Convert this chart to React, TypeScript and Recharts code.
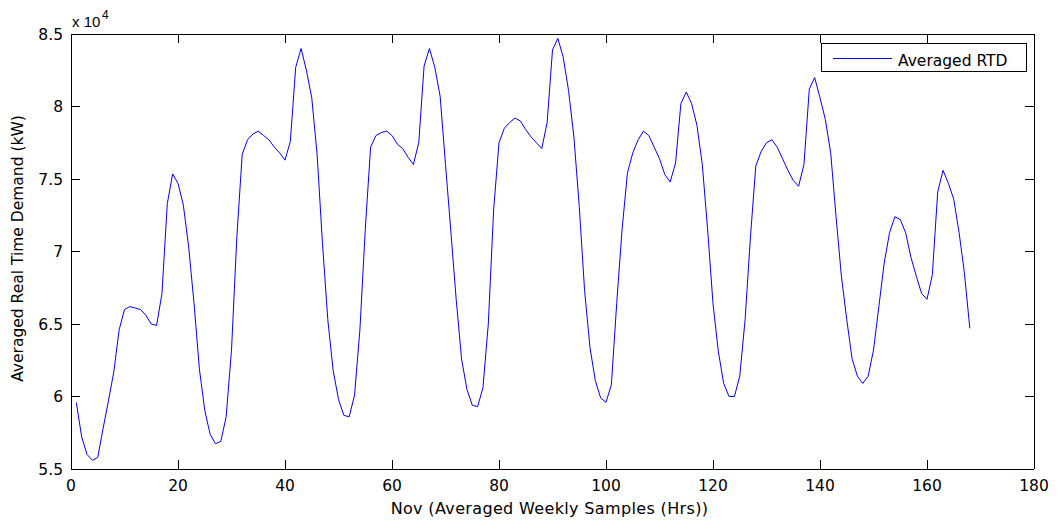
import React from "react";
import { LineChart, Line, XAxis, YAxis, Legend } from "recharts";

// averaged hourly demand over one week (kW), hour 1..168
const demandKW = [
  59580, 57200, 56000, 55600, 55800, 57800, 59700, 61700, 64600, 66000,
  66200, 66100, 66000, 65600, 65000, 64900, 67100, 73300, 75350, 74700,
  73200, 70300, 66400, 61900, 59050, 57400, 56750, 56900, 58600, 63200,
  71000, 76700, 77700, 78100, 78300, 78000, 77700, 77200, 76800, 76300,
  77600, 82700, 84000, 82500, 80600, 76700, 70600, 65300, 61800, 59800,
  58700, 58600, 60100, 64600, 71500, 77200, 78000, 78200, 78300, 78000,
  77400, 77100, 76500, 76000, 77500, 82800, 84000, 82700, 80700, 76000,
  71400, 66700, 62600, 60500, 59400, 59300, 60600, 65000, 72900, 77500,
  78500, 78900, 79200, 79000, 78400, 77900, 77500, 77100, 78900, 83900,
  84700, 83400, 81100, 77900, 73100, 67300, 63400, 61100, 59900, 59600,
  60800, 66400, 71500, 75400, 76800, 77700, 78300, 78000, 77200, 76400,
  75300, 74800, 76100, 80200, 81000, 80200, 78700, 76000, 71500, 66400,
  63100, 60900, 60000, 60000, 61400, 65300, 71000, 75900, 76900, 77500,
  77700, 77200, 76400, 75600, 74900, 74500, 76000, 81200, 82000, 80600,
  79100, 76800, 72400, 68300, 65300, 62600, 61400, 60900, 61400, 63200,
  66200, 69200, 71300, 72400, 72200, 71300, 69600, 68300, 67100, 66700,
  68400, 74100, 75600, 74700, 73600, 71300, 68500, 64700,
];

const xTicks = [0, 20, 40, 60, 80, 100, 120, 140, 160, 180];
const yTicks = [55000, 60000, 65000, 70000, 75000, 80000, 85000];

const seriesName = "Averaged RTD";
const xTitle = "Nov (Averaged Weekly Samples (Hrs))";
const yTitle = "Averaged Real Time Demand (kW)";

const rows = demandKW.map((v, i) => ({ hour: i + 1, rtd: v }));

const W = 1058;
const H = 520;
const MARGIN = { top: 34, right: 24, bottom: 11, left: 11 };
const Y_AXIS_W = 60;
const X_AXIS_H = 40;
const PLOT_TOP = MARGIN.top;
const PLOT_LEFT = MARGIN.left + Y_AXIS_W;
const PLOT_RIGHT = W - MARGIN.right;

const FONT = "'DejaVu Sans', Arial, sans-serif";
const TICK_LEN = 9;

// bottom axis tick: label, inner tick at bottom and top (matlab box),
// the first tick also draws the top and right edges of the box
const BottomTick = (props: any) => {
  const { x, y, payload, index } = props;
  return (
    <g>
      {index === 0 && (
        <g>
          <line x1={PLOT_LEFT} y1={PLOT_TOP} x2={PLOT_RIGHT} y2={PLOT_TOP} stroke="#000" shapeRendering="crispEdges" />
          <line x1={PLOT_RIGHT} y1={PLOT_TOP} x2={PLOT_RIGHT} y2={y} stroke="#000" shapeRendering="crispEdges" />
        </g>
      )}
      <line x1={x} y1={y} x2={x} y2={y - TICK_LEN} stroke="#000" shapeRendering="crispEdges" />
      <line x1={x} y1={PLOT_TOP} x2={x} y2={PLOT_TOP + TICK_LEN} stroke="#000" shapeRendering="crispEdges" />
      <text x={x} y={y + 22} textAnchor="middle" fontSize={15.5} fontFamily={FONT} fill="#000">
        {payload.value}
      </text>
    </g>
  );
};

const LeftTick = (props: any) => {
  const { x, y, payload } = props;
  return (
    <g>
      <line x1={x} y1={y} x2={x + TICK_LEN} y2={y} stroke="#000" shapeRendering="crispEdges" />
      <line x1={PLOT_RIGHT} y1={y} x2={PLOT_RIGHT - TICK_LEN} y2={y} stroke="#000" shapeRendering="crispEdges" />
      <text x={x - 8} y={y + 5.6} textAnchor="end" fontSize={15.5} fontFamily={FONT} fill="#000">
        {payload.value / 10000}
      </text>
    </g>
  );
};

const renderYLabel = (props: any) => {
  const vb = props.viewBox;
  const cx = 23;
  const cy = vb.y + vb.height / 2 - 3;
  const ax = vb.x + vb.width;
  return (
    <g>
      <text
        x={cx}
        y={cy}
        textAnchor="middle"
        transform={`rotate(-90 ${cx} ${cy})`}
        fontSize={15.5}
        fontFamily={FONT}
        fill="#000"
      >
        {yTitle}
      </text>
      <text x={ax + 1} y={vb.y - 7.3} fontSize={15} fontFamily="'Liberation Sans', Arial, sans-serif" fill="#000">
        x 10
      </text>
      <text x={ax + 31} y={vb.y - 14.7} fontSize={12} fontFamily="'Liberation Sans', Arial, sans-serif" fill="#000">
        4
      </text>
    </g>
  );
};

const renderXLabel = (props: any) => {
  const vb = props.viewBox;
  return (
    <text
      x={vb.x + vb.width / 2 - 3}
      y={vb.y + 45}
      textAnchor="middle"
      fontSize={16}
      letterSpacing={0.35}
      fontFamily={FONT}
      fill="#000"
    >
      {xTitle}
    </text>
  );
};

const LegendBox = () => (
  <div
    style={{
      width: 206,
      height: 29,
      border: "1px solid #000",
      background: "#fff",
      boxSizing: "border-box",
      position: "relative",
    }}
  >
    <svg width={206} height={29} style={{ position: "absolute", left: 0, top: 0 }}>
      <line x1={11} y1={14.5} x2={70} y2={14.5} stroke="#0000ff" />
      <text x={76} y={22} fontSize={15.5} fontFamily={FONT} fill="#000">
        {seriesName}
      </text>
    </svg>
  </div>
);

export default function App() {
  return (
    <div style={{ position: "absolute", left: 0, top: 0, background: "#fff" }}>
      <LineChart width={W} height={H} data={rows} margin={MARGIN}>
        <XAxis
          dataKey="hour"
          type="number"
          domain={[0, 180]}
          ticks={xTicks}
          interval={0}
          height={X_AXIS_H}
          stroke="#000"
          axisLine={{ shapeRendering: "crispEdges" }}
          tickSize={0}
          tickMargin={0}
          tickLine={false}
          tick={<BottomTick />}
          label={renderXLabel}
        />
        <YAxis
          type="number"
          domain={[55000, 85000]}
          ticks={yTicks}
          interval={0}
          width={Y_AXIS_W}
          stroke="#000"
          axisLine={{ shapeRendering: "crispEdges" }}
          tickSize={0}
          tickMargin={0}
          tickLine={false}
          tick={<LeftTick />}
          label={renderYLabel}
        />
        <Legend
          layout="horizontal"
          verticalAlign="middle"
          align="center"
          wrapperStyle={{ left: 821, top: 43, width: 206, height: 29 }}
          content={<LegendBox />}
        />
        <Line
          type="linear"
          dataKey="rtd"
          name={seriesName}
          stroke="#0000ff"
          strokeWidth={1}
          dot={false}
          activeDot={false}
          isAnimationActive={false}
        />
      </LineChart>
    </div>
  );
}
